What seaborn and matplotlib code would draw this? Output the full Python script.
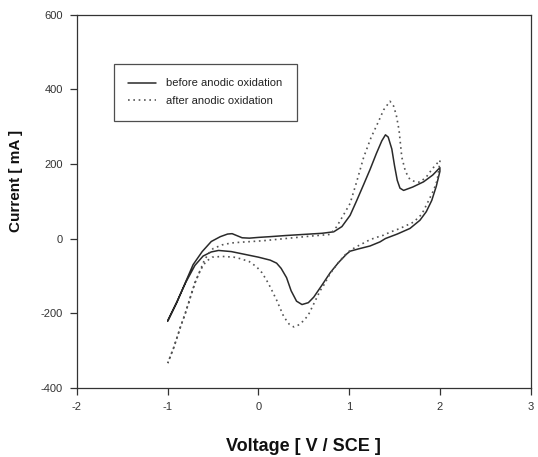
import matplotlib
matplotlib.use("Agg")
import matplotlib.pyplot as plt
from matplotlib import font_manager
import seaborn as sns
import pandas as pd

# ---- data ----
before_v = [-1.0, -0.9, -0.8, -0.72, -0.62, -0.52, -0.42, -0.34, -0.29, -0.24, -0.18, -0.1,
            0.0, 0.13, 0.3, 0.5, 0.7, 0.83, 0.92, 1.01, 1.08, 1.16, 1.23, 1.3, 1.36, 1.4,
            1.43, 1.47, 1.5, 1.53, 1.56, 1.6, 1.7, 1.82, 1.92, 2.0,
            2.0, 1.96, 1.91, 1.85, 1.78, 1.67, 1.53, 1.4, 1.34, 1.23, 1.1, 1.01, 0.97,
            0.88, 0.79, 0.7, 0.61, 0.55, 0.48, 0.42, 0.36, 0.31, 0.25, 0.2, 0.13, 0.0,
            -0.1, -0.2, -0.3, -0.44, -0.52, -0.61, -0.7, -0.8, -0.9, -1.0]
before_i = [-222, -172, -115, -70, -35, -8, 5, 12, 13, 8, 2, 1,
            3, 5, 8, 11, 14, 18, 32, 62, 100, 145, 185, 228, 262, 278,
            272, 240, 195, 156, 135, 129, 138, 152, 170, 190,
            180, 140, 102, 72, 49, 27, 12, 0, -9, -20, -28, -34, -42,
            -65, -92, -125, -157, -172, -177, -168, -140, -105, -80, -66, -58, -50,
            -45, -40, -35, -32, -36, -47, -72, -117, -170, -220]

after_v = [-1.0, -0.93, -0.86, -0.8, -0.75, -0.7, -0.65, -0.6, -0.55, -0.5, -0.4, -0.3,
           -0.2, 0.05, 0.3, 0.6, 0.79, 0.86, 0.93, 1.01, 1.08, 1.16, 1.24, 1.32, 1.38,
           1.45, 1.49, 1.52, 1.55, 1.58, 1.62, 1.67, 1.73, 1.78, 1.85, 1.92, 2.0,
           2.0, 1.97, 1.93, 1.86, 1.8, 1.71, 1.56, 1.45, 1.38, 1.3, 1.23, 1.16, 1.08,
           1.01, 0.95, 0.88, 0.79, 0.72, 0.68, 0.61, 0.55, 0.5, 0.44, 0.39, 0.34, 0.28,
           0.2, 0.13, 0.09, 0.04, -0.02, -0.1, -0.2, -0.27, -0.4, -0.51, -0.58, -0.64,
           -0.7, -0.75, -0.8, -0.86, -0.93, -1.0]
after_i = [-334, -290, -237, -195, -157, -120, -90, -60, -40, -27, -17, -12,
           -10, -6, 0, 7, 11, 31, 60, 94, 150, 218, 270, 312, 345,
           368, 355, 330, 290, 218, 180, 158, 152, 151, 165, 188, 210,
           205, 156, 129, 94, 65, 44, 27, 17, 9, 3, -3, -12, -22,
           -32, -45, -65, -94, -125, -140, -175, -205, -220, -232, -237, -230, -210,
           -165, -130, -112, -92, -76, -62, -54, -50, -48, -50, -62, -85,
           -118, -157, -197, -238, -290, -334]

series_names = ["before anodic oxidation", "after anodic oxidation"]
x_ticks = [-2, -1, 0, 1, 2, 3]
y_ticks = [-400, -200, 0, 200, 400, 600]
x_label = "Voltage [ V / SCE ]"
y_label = "Current [ mA ]"

# ---- style ----
sns.set_theme(style="white")
plt.rcParams["font.family"] = ["Liberation Sans", "DejaVu Sans"]

fig = plt.figure(figsize=(5.38, 4.57), dpi=100)
ax = fig.add_axes([0.1431, 0.1516, 0.8432, 0.8162])

df_b = pd.DataFrame({"V": before_v, "I": before_i, "s": series_names[0]})
df_a = pd.DataFrame({"V": after_v, "I": after_i, "s": series_names[1]})

sns.lineplot(data=df_b, x="V", y="I", sort=False, estimator=None, ax=ax,
             color="#2a2a2a", lw=1.1, label=series_names[0])
sns.lineplot(data=df_a, x="V", y="I", sort=False, estimator=None, ax=ax,
             color="#555555", lw=1.2, ls=(0, (1, 2.2)), label=series_names[1])

ax.set_xlim(-2, 3)
ax.set_ylim(-400, 600)
ax.set_xticks(x_ticks)
ax.set_yticks(y_ticks)
ax.set_xticklabels([str(t) for t in x_ticks])
ax.set_yticklabels([str(t) for t in y_ticks])
ax.tick_params(axis="both", which="major", direction="out", length=5, width=0.9,
               color="#333333", labelsize=8, labelcolor="#333333", pad=5,
               bottom=True, left=True, top=False, right=False)

for sp in ax.spines.values():
    sp.set_visible(True)
    sp.set_color("#333333")
    sp.set_linewidth(0.9)

ax.set_xlabel(x_label, fontsize=13, fontweight="bold", color="#111111", labelpad=19)

names = {f.name for f in font_manager.fontManager.ttflist}
if "Liberation Sans Narrow" in names:
    ax.set_ylabel(y_label, fontsize=13, fontweight="bold", color="#111111",
                  family=["Liberation Sans Narrow", "DejaVu Sans"])
else:
    ax.set_ylabel(y_label, fontsize=11, fontweight="bold", color="#111111")
ax.yaxis.set_label_coords(-0.119, 0.554)

leg = ax.legend(loc="upper left", bbox_to_anchor=(0.0816, 0.868), fontsize=8,
                frameon=True, fancybox=False, shadow=False, borderpad=1.3,
                labelspacing=0.7, handlelength=2.5, handletextpad=0.9,
                borderaxespad=0)
leg.get_frame().set_edgecolor("#222222")
leg.get_frame().set_linewidth(0.9)
for t in leg.get_texts():
    t.set_color("#222222")

fig.savefig("out.png", dpi=100)
